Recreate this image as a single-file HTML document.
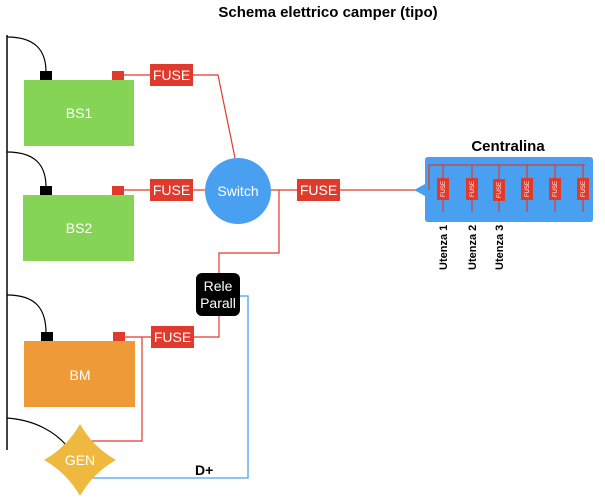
<!DOCTYPE html>
<html><head><meta charset="utf-8"><style>
html,body{margin:0;padding:0;background:#fff;}
svg{display:block;font-family:"Liberation Sans",Arial,sans-serif;}
</style></head><body>
<svg width="605" height="500" viewBox="0 0 605 500" xmlns="http://www.w3.org/2000/svg">
<text x="328" y="17" text-anchor="middle" font-size="15" font-weight="bold" fill="#000">Schema elettrico camper (tipo)</text>
<line x1="7" y1="35" x2="7" y2="450" stroke="#444" stroke-width="2"/>
<g fill="none" stroke="#000" stroke-width="1.2">
<path d="M7,37 C35,37 46,50 46,72"/>
<path d="M7,152 C35,152 46,165 46,187"/>
<path d="M7,295 C35,295 46,308 46,333"/>
<path d="M7,418 C35,420 55,432 67,446"/>
</g>
<g fill="none" stroke="#e03a2c" stroke-width="1.2">
<path d="M124,75 H150 M193,75 H218 L235,158"/>
<path d="M124,190 H150 M193,190 H205"/>
<path d="M271,190 H297 M279,190 V253 H219 V273"/>
<path d="M340,190 H416"/>
<path d="M125,337 H151 M194,337 H219 V316"/>
<path d="M142,337 V441 H92"/>
</g>
<path d="M240,296 H248 V478 H92" fill="none" stroke="#4aa0f0" stroke-width="1.3"/>
<text x="195" y="475" font-size="14" font-weight="bold" fill="#000">D+</text>
<rect x="24" y="80" width="110" height="66" fill="#86d456"/>
<text x="79" y="118" text-anchor="middle" font-size="14" fill="#fff">BS1</text>
<rect x="40" y="71" width="12" height="9" fill="#000"/><rect x="112" y="71" width="12" height="9" fill="#e03a2c"/>
<rect x="23" y="195" width="111" height="66" fill="#86d456"/>
<text x="79" y="233" text-anchor="middle" font-size="14" fill="#fff">BS2</text>
<rect x="40" y="186" width="12" height="9" fill="#000"/><rect x="112" y="186" width="12" height="9" fill="#e03a2c"/>
<rect x="24" y="341" width="111" height="66" fill="#ef9a38"/>
<text x="80" y="380" text-anchor="middle" font-size="14" fill="#fff">BM</text>
<rect x="41" y="332" width="12" height="9" fill="#000"/><rect x="113" y="332" width="12" height="9" fill="#e03a2c"/>
<g font-size="14" fill="#fff" text-anchor="middle">
<rect x="150" y="64" width="43" height="22" fill="#e03a2c"/><text x="171.5" y="80">FUSE</text>
<rect x="150" y="179" width="43" height="22" fill="#e03a2c"/><text x="171.5" y="195">FUSE</text>
<rect x="297" y="179" width="43" height="22" fill="#e03a2c"/><text x="318.5" y="195">FUSE</text>
<rect x="151" y="326" width="43" height="22" fill="#e03a2c"/><text x="172.5" y="342">FUSE</text>
<circle cx="238" cy="191" r="33" fill="#4aa0f0"/><text x="238" y="196">Switch</text>
<rect x="196" y="273" width="44" height="43" rx="6" fill="#000"/>
<text x="218" y="291">Rele</text><text x="218" y="308">Parall</text>
</g>
<path d="M80,424 Q93,447 116,460 Q93,473 80,496 Q67,473 44,460 Q67,447 80,424Z" fill="#efb93f"/>
<text x="80" y="465" text-anchor="middle" font-size="14" fill="#fff">GEN</text>
<text x="508" y="151" text-anchor="middle" font-size="15" font-weight="bold" fill="#000">Centralina</text>
<path d="M428,157 H590 Q593,157 593,160 V219 Q593,222 590,222 H428 Q425,222 425,219 V196 L414,190 L425,184 V160 Q425,157 428,157Z" fill="#4aa0f0"/>
<path d="M429,190 V165 H585" fill="none" stroke="#e03a2c" stroke-width="1.2"/>
<g stroke="#e03a2c" stroke-width="1.2">
<line x1="443" y1="165" x2="443" y2="212"/><line x1="472" y1="165" x2="472" y2="212"/><line x1="499" y1="165" x2="499" y2="212"/><line x1="527" y1="165" x2="527" y2="212"/><line x1="555" y1="165" x2="555" y2="212"/><line x1="583" y1="165" x2="583" y2="212"/>
</g>
<g fill="#e03a2c">
<rect x="437" y="178" width="12" height="22"/><rect x="466" y="178" width="12" height="22"/><rect x="493" y="179" width="12" height="22"/><rect x="521" y="178" width="12" height="22"/><rect x="549" y="178" width="12" height="22"/><rect x="577" y="178" width="12" height="22"/>
</g>
<g font-size="6" fill="#fff" text-anchor="middle">
<text transform="translate(445,189) rotate(-90)">FUSE</text><text transform="translate(474,189) rotate(-90)">FUSE</text><text transform="translate(501,190) rotate(-90)">FUSE</text><text transform="translate(529,189) rotate(-90)">FUSE</text><text transform="translate(557,189) rotate(-90)">FUSE</text><text transform="translate(585,189) rotate(-90)">FUSE</text>
</g>
<g font-size="11" font-weight="bold" fill="#000">
<text transform="translate(447,270) rotate(-90)">Utenza 1</text>
<text transform="translate(476,270) rotate(-90)">Utenza 2</text>
<text transform="translate(503,270) rotate(-90)">Utenza 3</text>
</g>
</svg>
</body></html>
